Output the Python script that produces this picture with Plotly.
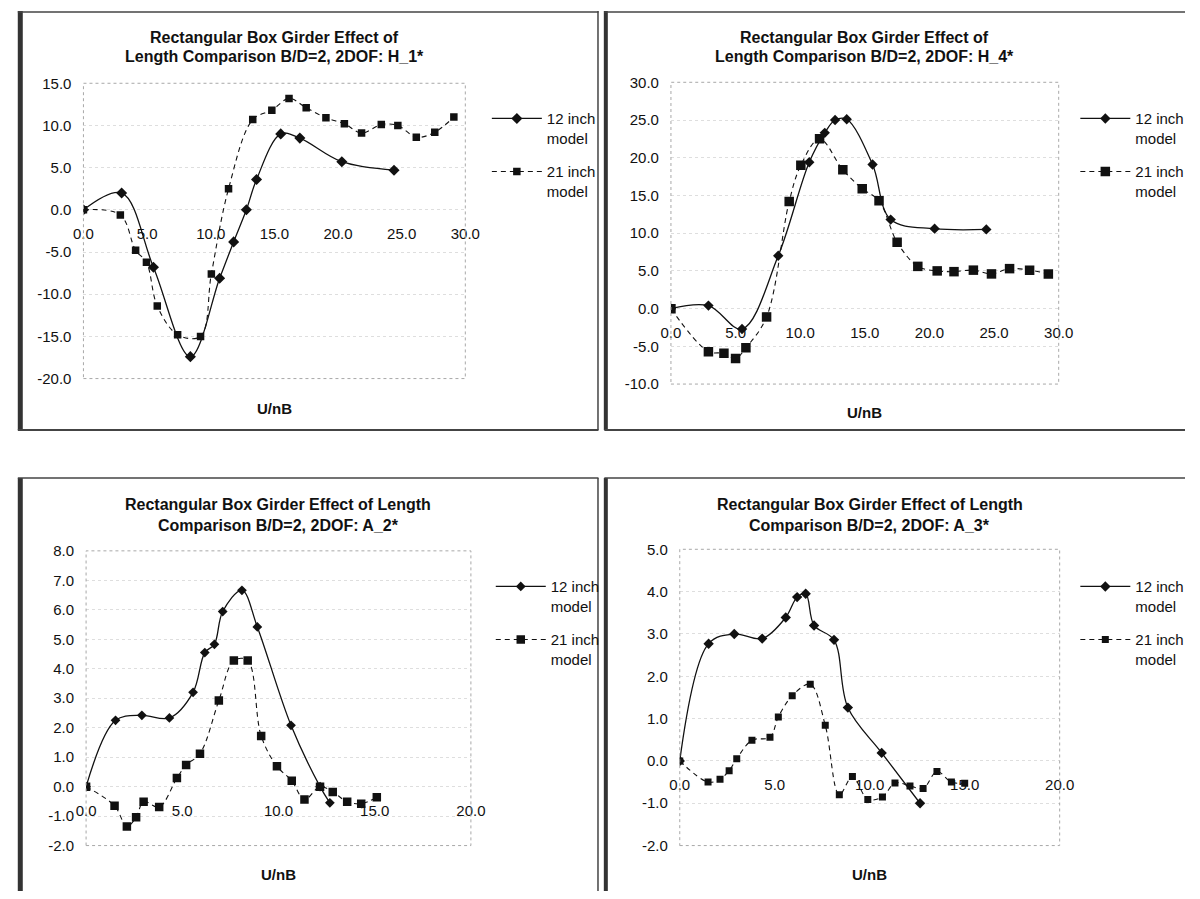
import plotly.graph_objects as go

W, H = 1200, 899

# ---------------- data ----------------
# Panel 1: H_1*
h1_x12 = [0, 3.0, 5.5, 8.4, 10.7, 11.8, 12.8, 13.6, 15.5, 17.0, 20.3, 24.4]
h1_y12 = [0, 2.0, -6.8, -17.4, -8.1, -3.8, 0.0, 3.6, 9.0, 8.5, 5.7, 4.7]
h1_x21 = [0, 2.9, 4.1, 4.95, 5.8, 7.4, 9.2, 10.05, 11.4, 13.3, 14.8, 16.15,
          17.5, 19.05, 20.5, 21.85, 23.4, 24.7, 26.15, 27.6, 29.1]
h1_y21 = [0, -0.6, -4.8, -6.2, -11.4, -14.8, -15.0, -7.6, 2.5, 10.7, 11.8, 13.2,
          12.1, 10.9, 10.2, 9.1, 10.1, 10.0, 8.6, 9.2, 11.0]

# Panel 2: H_4*
h4_x12 = [0, 2.9, 5.5, 8.3, 10.7, 11.9, 12.7, 13.6, 15.6, 17.0, 20.4, 24.4]
h4_y12 = [0, 0.4, -2.7, 7.0, 19.4, 23.3, 25.0, 25.1, 19.1, 11.8, 10.6, 10.5]
h4_x21 = [0, 2.9, 4.1, 5.0, 5.8, 7.4, 9.15, 10.05, 11.5, 13.3, 14.8, 16.1,
          17.5, 19.1, 20.6, 21.9, 23.4, 24.8, 26.2, 27.75, 29.2]
h4_y21 = [0, -5.7, -5.9, -6.6, -5.2, -1.1, 14.2, 19.0, 22.5, 18.4, 15.9, 14.3,
          8.8, 5.6, 5.0, 4.9, 5.1, 4.6, 5.3, 5.1, 4.6]

# Panel 3: A_2*
a2_x12 = [0, 1.53, 2.9, 4.33, 5.56, 6.17, 6.67, 7.1, 8.1, 8.9, 10.65, 12.16, 12.67]
a2_y12 = [0, 2.25, 2.42, 2.33, 3.2, 4.55, 4.83, 5.94, 6.66, 5.42, 2.08, 0.0, -0.55]
a2_x21 = [0, 1.48, 2.12, 2.6, 2.99, 3.8, 4.72, 5.2, 5.92, 6.9, 7.68, 8.4, 9.1,
          9.92, 10.69, 11.35, 12.16, 12.82, 13.57, 14.3, 15.11]
a2_y21 = [0, -0.65, -1.35, -1.04, -0.51, -0.69, 0.29, 0.73, 1.12, 2.92, 4.28, 4.28,
          1.72, 0.69, 0.2, -0.44, 0.0, -0.18, -0.51, -0.58, -0.36]

# Panel 4: A_3*
a3_x12 = [0, 1.52, 2.87, 4.34, 5.58, 6.18, 6.63, 7.07, 8.12, 8.85, 10.63, 12.65]
a3_y12 = [0, 2.77, 3.0, 2.89, 3.39, 3.87, 3.95, 3.2, 2.86, 1.26, 0.19, -1.0]
a3_x21 = [0, 1.49, 2.12, 2.6, 3.0, 3.8, 4.75, 5.19, 5.92, 6.87, 7.66, 8.4, 9.09,
          9.9, 10.67, 11.33, 12.12, 12.81, 13.54, 14.3, 15.0]
a3_y21 = [0, -0.5, -0.43, -0.23, 0.05, 0.49, 0.56, 1.04, 1.54, 1.81, 0.84, -0.8,
          -0.37, -0.91, -0.85, -0.52, -0.59, -0.65, -0.25, -0.5, -0.53]

# tick labels
x_ticks_30 = [0, 5, 10, 15, 20, 25, 30]
x_ticks_20 = [0, 5, 10, 15, 20]
y_ticks_h1 = [-20, -15, -10, -5, 0, 5, 10, 15]
y_ticks_h4 = [-10, -5, 0, 5, 10, 15, 20, 25, 30]
y_ticks_a2 = [-2, -1, 0, 1, 2, 3, 4, 5, 6, 7, 8]
y_ticks_a3 = [-2, -1, 0, 1, 2, 3, 4, 5]

series_names = ["12 inch<br>model", "21 inch<br>model"]
x_title = "U/nB"
titles = [
    ["Rectangular Box Girder Effect of", "Length Comparison B/D=2, 2DOF: H_1*"],
    ["Rectangular Box Girder Effect of", "Length Comparison B/D=2, 2DOF: H_4*"],
    ["Rectangular Box Girder Effect of Length", "Comparison B/D=2, 2DOF: A_2*"],
    ["Rectangular Box Girder Effect of Length", "Comparison B/D=2, 2DOF: A_3*"],
]


def fmt(v):
    return "%.1f" % v  # plain hyphen minus, as in the original


# ---------------- layout config (pixels) ----------------
panels = [
    dict(d=(h1_x12, h1_y12, h1_x21, h1_y21), xt=x_ticks_30, yt=y_ticks_h1,
         dx=(75, 465), dy=(75.7, 376.7), ty=(29, 48), xty=407, lx=487, ly=95,
         ds=8.5, ss=7.5),
    dict(d=(h4_x12, h4_y12, h4_x21, h4_y21), xt=x_ticks_30, yt=y_ticks_h4,
         dx=(675, 1071), dy=(74.7, 382.3), ty=(29, 48), xty=411, lx=1088, ly=95,
         ds=8, ss=9.5),
    dict(d=(a2_x12, a2_y12, a2_x21, a2_y21), xt=x_ticks_20, yt=y_ticks_a2,
         dx=(77.7, 470.7), dy=(552.3, 852.7), ty=(505, 526), xty=882, lx=491, ly=572,
         ds=7.5, ss=8.5),
    dict(d=(a3_x12, a3_y12, a3_x21, a3_y21), xt=x_ticks_20, yt=y_ticks_a3,
         dx=(684, 1072), dy=(550.7, 852.7), ty=(505, 526), xty=882, lx=1088, ly=572,
         ds=8, ss=7),
]

FONT = "Liberation Sans, Arial, sans-serif"
INK = "#111111"


def px(v):
    return v / W


def py(v):
    return 1 - v / H


fig = go.Figure()
layout = dict(
    width=W, height=H, margin=dict(l=0, r=0, t=0, b=0),
    paper_bgcolor="white", plot_bgcolor="white",
    font=dict(family=FONT, size=15, color=INK),
    showlegend=True,
)
annotations = []
shapes = []

for i, p in enumerate(panels):
    n = "" if i == 0 else str(i + 1)
    xa, ya = "x" + n, "y" + n
    lg = "legend" + n
    x12, y12, x21, y21 = p["d"]
    fig.add_trace(go.Scatter(
        x=x12, y=y12, mode="lines+markers", name=series_names[0],
        xaxis=xa, yaxis=ya, legend=lg, legendgroup=f"a{i}",
        line=dict(shape="spline", smoothing=1.0, color=INK, width=1.3),
        marker=dict(symbol="diamond", size=p["ds"], color=INK),
    ))
    fig.add_trace(go.Scatter(
        x=x21, y=y21, mode="lines+markers", name=series_names[1],
        xaxis=xa, yaxis=ya, legend=lg, legendgroup=f"b{i}",
        line=dict(shape="spline", smoothing=1.0, color=INK, width=1.1, dash="5px,4px"),
        marker=dict(symbol="square", size=p["ss"], color=INK),
    ))
    xr = [p["xt"][0], p["xt"][-1]]
    yr = [p["yt"][0], p["yt"][-1]]
    y0p, y1p = py(p["dy"][1]), py(p["dy"][0])
    zero_pos = y0p + (0 - yr[0]) / (yr[1] - yr[0]) * (y1p - y0p)
    layout["xaxis" + n] = dict(
        domain=[px(p["dx"][0]), px(p["dx"][1])], range=xr,
        tickmode="array", tickvals=p["xt"], ticktext=[fmt(v) for v in p["xt"]],
        anchor="free", position=zero_pos,
        showgrid=False, zeroline=False, showline=False, ticks="",
        ticklabelstandoff=13, tickfont=dict(size=15, family=FONT, color=INK),
    )
    layout["yaxis" + n] = dict(
        domain=[y0p, y1p], range=yr,
        tickmode="array", tickvals=p["yt"], ticktext=[fmt(v) for v in p["yt"]],
        anchor=xa, showgrid=True, gridcolor="#dedede", griddash="dot", gridwidth=1,
        zeroline=False, showline=False, ticks="", ticklabelstandoff=11,
        tickfont=dict(size=15, family=FONT, color=INK),
    )
    layout[lg] = dict(
        x=px(p["lx"]), y=py(p["ly"]), xanchor="left", yanchor="top",
        bgcolor="rgba(0,0,0,0)", borderwidth=0, valign="top",
        font=dict(size=15, family=FONT, color=INK), tracegroupgap=11,
        itemwidth=50,
    )
    # plot-area border
    shapes.append(dict(type="rect", xref=xa + " domain", yref=ya + " domain",
                       x0=0, x1=1, y0=0, y1=1,
                       line=dict(color="#a8a8a8", width=1, dash="dot")))
    # titles
    for line_txt, ty in zip(titles[i], p["ty"]):
        annotations.append(dict(text=f"<b>{line_txt}</b>", xref=xa + " domain", x=0.5,
                                yref="paper", y=py(ty), xanchor="center", yanchor="middle",
                                showarrow=False, font=dict(size=16, family=FONT, color=INK)))
    annotations.append(dict(text=f"<b>{x_title}</b>", xref=xa + " domain", x=0.5,
                            yref="paper", y=py(p["xty"]), xanchor="center", yanchor="middle",
                            showarrow=False, font=dict(size=15, family=FONT, color=INK)))


# chart frames (scanned page borders)
def pline(x0, y0, x1, y1, w, c):
    shapes.append(dict(type="line", xref="paper", yref="paper",
                       x0=px(x0), y0=py(y0), x1=px(x1), y1=py(y1),
                       line=dict(color=c, width=w)))


FR = "#444444"
# top-left
pline(10.5, 2, 10.5, 429, 5, "#333333")
pline(8, 3, 601, 3, 1.5, FR)
pline(8, 429, 601, 429, 2, FR)
pline(600.5, 2, 600.5, 429, 1.5, FR)
# top-right
pline(608.5, 2, 608.5, 429, 4, "#333333")
pline(607, 3, 1200, 3, 1.5, FR)
pline(607, 429, 1200, 429, 2, FR)
# bottom-left
pline(10.5, 478, 10.5, 899, 5, "#333333")
pline(8, 478, 601, 478, 1.5, FR)
pline(600.5, 478, 600.5, 899, 1.5, FR)
# bottom-right
pline(608.5, 478, 608.5, 899, 4, "#333333")
pline(607, 478, 1200, 478, 1.5, FR)

layout["annotations"] = annotations
layout["shapes"] = shapes
fig.update_layout(**layout)
fig.write_html("out.html", config={"displayModeBar": False},
               post_script="document.body.style.margin='0px';document.body.style.overflow='hidden';")
